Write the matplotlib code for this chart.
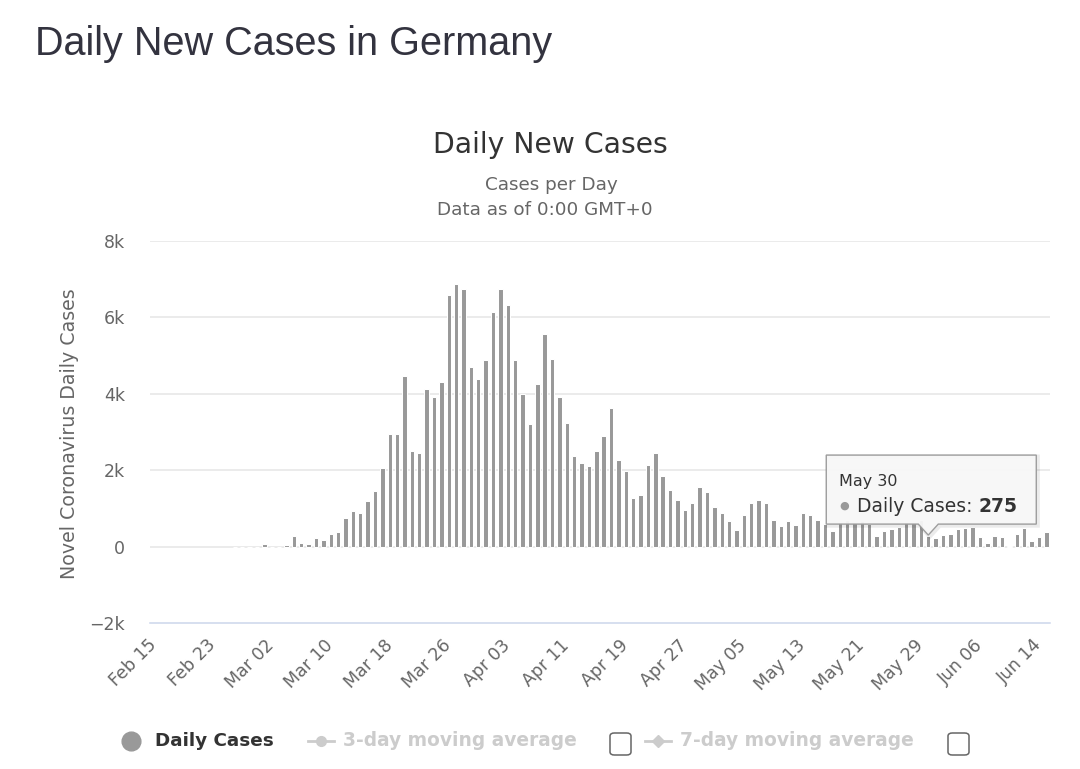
import matplotlib
matplotlib.use("Agg")
import matplotlib.pyplot as plt
import numpy as np
import pandas as pd
from matplotlib.patches import Polygon, FancyBboxPatch
from matplotlib.lines import Line2D

# ---------------- data ----------------
start_date = "2020-02-15"
n_days = 122
daily_cases = [
    None, None, None, None, None, None, None, None, None, None, None,   # Feb 15 - Feb 25
    0, 0, 0, 0, 55, 0, 0, 45, 270, 95, 80, 225, 180,                    # Feb 26 - Mar 09
    318, 395, 754, 924, 872, 1186, 1447, 2058, 2938, 2938,              # Mar 10 - Mar 19
    4473, 2493, 2450, 4124, 3906, 4298, 6582, 6879, 6748, 4691,         # Mar 20 - Mar 29
    4394, 4874, 6138, 6748, 6312, 4874, 3993, 3208, 4255, 5571,         # Mar 30 - Apr 08
    4908, 3906, 3243, 2371, 2197, 2110, 2502, 2893, 3627, 2268,         # Apr 09 - Apr 18
    1972, 1273, 1355, 2140, 2450, 1838, 1486, 1225, 965, 1134,          # Apr 19 - Apr 28
    1567, 1437, 1048, 874, 658, 442, 831, 1134, 1221, 1134,             # Apr 29 - May 08
    701, 528, 658, 571, 874, 831, 701, 600, 398, 650,                   # May 09 - May 18
    700, 620, 680, 600, 280, 400, 460, 520, 640, 620,                   # May 19 - May 28
    700, 275, 220, 300, 330, 450, 480, 520, 250, 90,                    # May 29 - Jun 07
    270, 240, 10, 330, 480, 150, 250, 380,                              # Jun 08 - Jun 15
]
tick_step = 8
y_ticks = [-2000, 0, 2000, 4000, 6000, 8000]
y_tick_labels = ["\u22122k", "0", "2k", "4k", "6k", "8k"]
tooltip_date = "May 30"
series_name = "Daily Cases"

# ---------------- figure ----------------
W, H = 1080, 769
fig = plt.figure(figsize=(W / 100, H / 100), dpi=100)
fig.patch.set_facecolor("white")

def fx(px):
    return px / W

def fy(py):
    return 1 - py / H

left, right, top, bottom = 150, 1050, 241, 623
ax = fig.add_axes([fx(left), fy(bottom), (right - left) / W, (bottom - top) / H])

dates = pd.date_range(start_date, periods=n_days, freq="D")
labels = [d.strftime("%b %d") for d in dates]
vals = np.array([np.nan if v is None else v for v in daily_cases], dtype=float)
x = np.arange(n_days)

ax.bar(x, vals, width=0.6, color="#999999", edgecolor="white", linewidth=0.75,
       zorder=3)

ax.set_xlim(-0.5, n_days - 0.5)
ax.set_ylim(y_ticks[0], y_ticks[-1])

for yt in y_ticks[1:]:
    ax.axhline(yt, color="#e6e6e6", lw=1.1, zorder=1)

for s in ["top", "right", "left"]:
    ax.spines[s].set_visible(False)
ax.spines["bottom"].set_color("#ccd6eb")
ax.spines["bottom"].set_linewidth(1.1)

ax.set_yticks(y_ticks)
ax.set_yticklabels(y_tick_labels)
ax.tick_params(axis="y", length=0, pad=18, labelsize=12.5, labelcolor="#666666")

tick_pos = x[::tick_step]
ax.set_xticks(tick_pos)
ax.set_xticklabels([labels[i] for i in tick_pos], rotation=45, ha="right",
                   va="center", rotation_mode="anchor")
ax.tick_params(axis="x", length=0, pad=14, labelsize=12.5, labelcolor="#666666")

# ---------------- texts ----------------
fig.text(fx(35), fy(44), "Daily New Cases in Germany", fontsize=28.5,
         color="#33333f", family="Liberation Sans", ha="left", va="center")
fig.text(fx(550), fy(145), "Daily New Cases", fontsize=20.3, color="#333333",
         ha="center", va="center")
fig.text(fx(551), fy(185), "Cases per Day", fontsize=13.2, color="#666666",
         ha="center", va="center")
fig.text(fx(545), fy(210), "Data as of 0:00 GMT+0", fontsize=13.2, color="#666666",
         ha="center", va="center")
fig.text(fx(70), fy(434), "Novel Coronavirus Daily Cases", fontsize=13.7,
         color="#666666", rotation=90, ha="center", va="center")

# ---------------- legend ----------------
ly = fy(741)
fig.add_artist(Line2D([fx(131)], [ly], marker="o", markersize=13.5,
                      color="#999999", lw=0, transform=fig.transFigure))
fig.text(fx(155), ly, series_name, fontsize=13.2, fontweight="bold",
         color="#333333", ha="left", va="center")
fig.add_artist(Line2D([fx(308), fx(334)], [ly, ly], color="#cccccc", lw=2,
                      transform=fig.transFigure))
fig.add_artist(Line2D([fx(321)], [ly], marker="o", markersize=7, color="#cccccc",
                      transform=fig.transFigure))
fig.text(fx(343), ly, "3-day moving average", fontsize=13.4, fontweight="bold",
         color="#cccccc", ha="left", va="center")
fig.add_artist(Line2D([fx(645), fx(671)], [ly, ly], color="#cccccc", lw=2,
                      transform=fig.transFigure))
fig.add_artist(Line2D([fx(658)], [ly], marker="D", markersize=6, color="#cccccc",
                      transform=fig.transFigure))
fig.text(fx(680), ly, "7-day moving average", fontsize=13.4, fontweight="bold",
         color="#cccccc", ha="left", va="center")
for cx in (620, 958):
    fig.add_artist(FancyBboxPatch((fx(cx - 10), fy(755)), 21 / W, 22 / H,
                                  boxstyle="round,pad=0,rounding_size=0.004",
                                  transform=fig.transFigure, facecolor="white",
                                  edgecolor="#666666", lw=1.1))

# ---------------- tooltip ----------------
idx = labels.index(tooltip_date)
val = vals[idx]
fig.canvas.draw()
tip_disp = ax.transData.transform((idx, val))
tx, ty = tip_disp[0], H - tip_disp[1]  # image pixel coords
ty -= 1
L, R, T, B = tx - 102, tx + 108, ty - 80, ty - 11
pts = [(L, B), (tx - 10, B), (tx, ty), (tx + 10, B), (R, B), (R, T), (L, T)]
shadow = Polygon([(fx(px + 1.5), fy(py + 1.5)) for px, py in pts], closed=True,
                 transform=fig.transFigure, facecolor="none",
                 edgecolor="#000000", alpha=0.08, lw=3, zorder=9)
fig.add_artist(shadow)
callout = Polygon([(fx(px), fy(py)) for px, py in pts], closed=True,
                  transform=fig.transFigure, facecolor="#f7f7f7",
                  edgecolor="#999999", lw=1, alpha=0.95, zorder=10)
fig.add_artist(callout)
fig.text(fx(L + 13), fy(T + 26), tooltip_date, fontsize=11.5, color="#333333",
         ha="left", va="center", zorder=11)
fig.text(fx(L + 13), fy(T + 51), "\u25cf", fontsize=8, color="#999999",
         ha="left", va="center", zorder=11)
t1 = fig.text(fx(L + 31), fy(T + 51), series_name + ": ", fontsize=13.5,
              color="#333333", ha="left", va="center", zorder=11)
fig.canvas.draw()
bb = t1.get_window_extent()
fig.text(bb.x1 / W, fy(T + 51), f"{int(val)}", fontsize=13.5, fontweight="bold",
         color="#333333", ha="left", va="center", zorder=11)

fig.savefig("out.png", dpi=100)
